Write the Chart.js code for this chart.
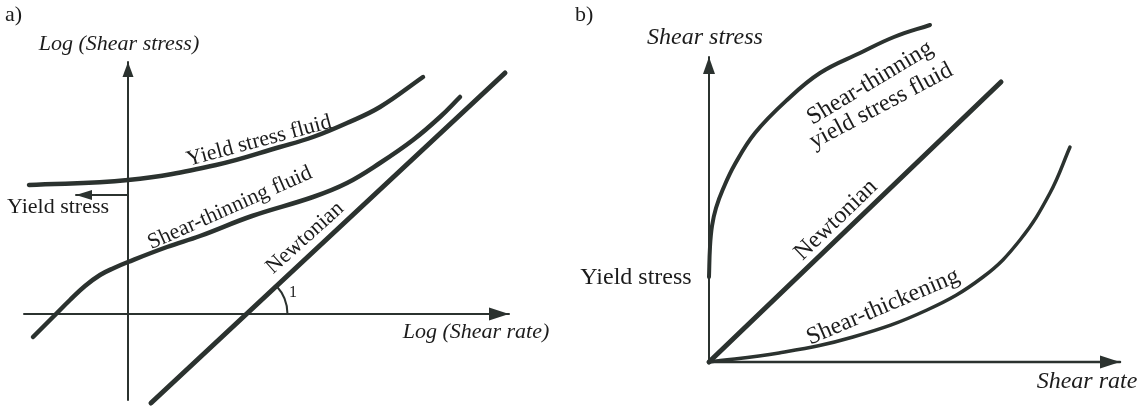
<!DOCTYPE html>
<html>
<head>
<meta charset="utf-8">
<script src="https://cdn.jsdelivr.net/npm/chart.js@4.4.1/dist/chart.umd.min.js"></script>
<style>
    html, body { margin: 0; padding: 0; background: #fff; }
    #wrap { position: relative; width: 1137px; height: 407px; }
    #panelA { position: absolute; left: 0; top: 0; }
    #panelB { position: absolute; left: 560px; top: 0; }
</style>
</head>
<body>
<div id="wrap">
    <canvas id="panelA" width="560" height="407"></canvas>
    <canvas id="panelB" width="577" height="407"></canvas>
</div>
<script>
// Panel a) – log(shear stress) vs log(shear rate), origin at the axes crossing
const axisXA = [[-10.4, 0], [38.1, 0]];
const axisYA = [[0, -8.6], [0, 25.2]];
const yieldFluidA = [[-9.9, 12.9], [0, 13.4], [8.8, 14.9], [15.2, 16.7], [18.5, 17.7], [21.9, 19.1],
    [25.2, 20.7], [29.5, 23.7]];
const shearThinningA = [[-9.5, -2.3], [-7.5, -0.3], [-5.8, 1.4], [-4.3, 2.8], [-2.8, 3.9], [-1.4, 4.6], [0, 5.2],
    [3.9, 6.7], [7.2, 7.8], [12.4, 9.8], [18.5, 11.7], [21.9, 13.1], [25.2, 15.1], [28.5, 17.4], [31.2, 19.7], [33.2, 21.7]];
const newtonianA = [[2.3, -8.9], [37.7, 24.1]];
const yieldArrowA = [[0, 11.9], [-5.2, 11.9]];

// Panel b) – shear stress vs shear rate (linear)
const axisXB = [[0, 0], [41.1, 0]];
const axisYB = [[0, 0], [0, 30.5]];
const yieldThinningB = [[0, 8.5], [0.1, 11.5], [0.3, 13.6], [0.7, 15.4], [1.4, 17.3], [2.6, 19.8], [4.6, 22.9],
    [7.8, 26.2], [11.1, 28.9], [15.1, 30.9], [18.5, 32.5], [22.1, 33.7]];
const newtonianB = [[0, 0], [29.2, 28.0]];
const thickeningB = [[0, 0], [7.0, 0.9], [14.4, 2.5], [21.8, 5.2], [27.4, 8.5], [31.1, 12.2], [34.1, 16.9], [36.1, 21.5]];

// Text labels (position in axis units, rotation in degrees)
const labelsA = [
    { text: 'a)', x: -12.3, y: 29.9, align: 'left', size: 22 },
    { text: 'Log (Shear stress)', x: -0.9, y: 27.0, italic: true, size: 22 },
    { text: 'Log (Shear rate)', x: 34.8, y: -1.8, italic: true, size: 22 },
    { text: 'Yield stress', x: -7.0, y: 10.7, size: 22 },
    { text: 'Yield stress fluid', x: 13.1, y: 17.3, angle: 15, size: 22 },
    { text: 'Shear-thinning fluid', x: 10.2, y: 10.6, angle: 24, size: 22 },
    { text: 'Newtonian', x: 17.7, y: 7.6, angle: 42, size: 22 },
    { text: '1', x: 16.5, y: 2.1, size: 16 }
];
const labelsB = [
    { text: 'b)', x: -13.4, y: 34.7, align: 'left', size: 22 },
    { text: 'Shear stress', x: -0.4, y: 32.4, italic: true, size: 24 },
    { text: 'Yield stress', x: -7.3, y: 8.4, size: 24 },
    { text: 'Shear rate', x: 37.8, y: -2.0, italic: true, size: 24 },
    { text: 'Shear-thinning', x: 16.1, y: 27.9, angle: 31, size: 24 },
    { text: 'yield stress fluid', x: 17.2, y: 25.6, angle: 28, size: 24 },
    { text: 'Newtonian', x: 12.7, y: 14.2, angle: 44, size: 24 },
    { text: 'Shear-thickening', x: 17.4, y: 5.5, angle: 23, size: 24 }
];

const INK = '#2b322f';
const TEXT = '#1c1c1c';

function toPoints(arr) {
    return arr.map(p => ({ x: p[0], y: p[1] }));
}

function line(data, width, extra = {}) {
    return Object.assign({
        data: toPoints(data),
        showLine: true,
        borderColor: INK,
        backgroundColor: INK,
        borderWidth: width,
        pointRadius: 0,
        pointHoverRadius: 0,
        fill: false,
        clip: false,
        borderCapStyle: 'round'
    }, extra);
}

// Draws arrow heads, the slope arc and the text labels on top of the lines
const diagramPlugin = {
    id: 'diagram',
    afterDatasetsDraw(chart, args, opts) {
        const ctx = chart.ctx;
        const px = v => chart.scales.x.getPixelForValue(v);
        const py = v => chart.scales.y.getPixelForValue(v);
        ctx.save();

        chart.data.datasets.forEach(ds => {
            if (!ds.arrowHead) return;
            const n = ds.data.length;
            const a = ds.data[n - 2], b = ds.data[n - 1];
            const x0 = px(a.x), y0 = py(a.y), x1 = px(b.x), y1 = py(b.y);
            const len = Math.hypot(x1 - x0, y1 - y0);
            const ux = (x1 - x0) / len, uy = (y1 - y0) / len;
            const L = ds.arrowHead.length, W = ds.arrowHead.width / 2;
            ctx.fillStyle = INK;
            ctx.beginPath();
            ctx.moveTo(x1, y1);
            ctx.lineTo(x1 - ux * L - uy * W, y1 - uy * L + ux * W);
            ctx.lineTo(x1 - ux * L + uy * W, y1 - uy * L - ux * W);
            ctx.closePath();
            ctx.fill();
        });

        if (opts.slopeArc) {
            const pts = opts.slopeArc.line;
            const p0 = pts[0], p1 = pts[pts.length - 1];
            const t = (0 - p0[1]) / (p1[1] - p0[1]);
            const cx = px(p0[0] + t * (p1[0] - p0[0])), cy = py(0);
            const ang = Math.atan2(py(p1[1]) - py(p0[1]), px(p1[0]) - px(p0[0]));
            ctx.strokeStyle = INK;
            ctx.lineWidth = 2;
            ctx.beginPath();
            ctx.arc(cx, cy, opts.slopeArc.radius, ang, 0);
            ctx.stroke();
        }

        (opts.labels || []).forEach(l => {
            ctx.save();
            ctx.translate(px(l.x), py(l.y));
            ctx.rotate(-(l.angle || 0) * Math.PI / 180);
            ctx.font = (l.italic ? 'italic ' : '') + l.size + 'px "Liberation Serif", "DejaVu Serif", serif';
            ctx.fillStyle = TEXT;
            ctx.textAlign = l.align || 'center';
            ctx.textBaseline = 'middle';
            ctx.fillText(l.text, 0, 0);
            ctx.restore();
        });
        ctx.restore();
    }
};

function baseOptions(xMin, xMax, yMin, yMax, extra) {
    return {
        responsive: false,
        animation: false,
        events: [],
        layout: { padding: 0 },
        plugins: {
            legend: { display: false },
            tooltip: { enabled: false },
            diagram: extra
        },
        scales: {
            x: { type: 'linear', display: false, min: xMin, max: xMax },
            y: { type: 'linear', display: false, min: yMin, max: yMax }
        }
    };
}

new Chart(document.getElementById('panelA'), {
    type: 'scatter',
    data: {
        datasets: [
            line(axisXA, 2, { arrowHead: { length: 20, width: 13 } }),
            line(axisYA, 2, { arrowHead: { length: 15, width: 11 } }),
            line(yieldArrowA, 2, { arrowHead: { length: 16, width: 10 } }),
            line(yieldFluidA, 4.5, { tension: 0.4 }),
            line(shearThinningA, 4.5, { tension: 0.4 }),
            line(newtonianA, 5)
        ]
    },
    options: baseOptions(-12.8, 43.2, -9.3, 31.4, {
        labels: labelsA,
        slopeArc: { line: newtonianA, radius: 41 }
    }),
    plugins: [diagramPlugin]
});

new Chart(document.getElementById('panelB'), {
    type: 'scatter',
    data: {
        datasets: [
            line(axisXB, 2.5, { arrowHead: { length: 20, width: 13 } }),
            line(axisYB, 2, { arrowHead: { length: 17, width: 12 } }),
            line(yieldThinningB, 4, { tension: 0.4 }),
            line(newtonianB, 5),
            line(thickeningB, 3.5, { tension: 0.4 })
        ]
    },
    options: baseOptions(-14.9, 42.8, -4.5, 36.2, { labels: labelsB }),
    plugins: [diagramPlugin]
});
</script>
</body>
</html>
